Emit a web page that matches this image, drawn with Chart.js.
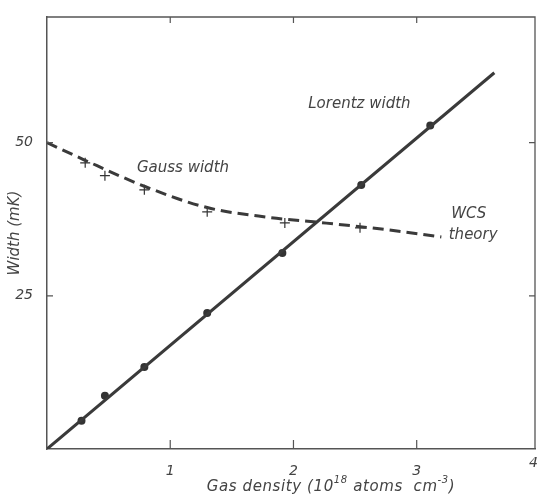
<!DOCTYPE html>
<html>
<head>
<meta charset="utf-8">
<script src="https://cdn.jsdelivr.net/npm/chart.js@4.4.1/dist/chart.umd.min.js"></script>
<style>
  html, body { margin: 0; padding: 0; background: #fff; overflow: hidden; }
  #wrap { position: relative; width: 537px; height: 495px; }
</style>
</head>
<body>
<div id="wrap"><canvas id="c"></canvas></div>
<script>
// ---- data ----
const xTickLabels = ['1', '2', '3', '4'];
const yTickLabels = ['25', '50'];

const lorentzDensity = [0.28, 0.47, 0.79, 1.30, 1.91, 2.55, 3.11];
const lorentzWidth   = [4.6, 8.7, 13.4, 22.2, 32.0, 43.1, 52.8];

const lorentzFitDensity = [0, 3.63];
const lorentzFitWidth   = [0, 61.4];

const gaussDensity = [0.31, 0.47, 0.79, 1.30, 1.93, 2.54];
const gaussWidth   = [46.7, 44.6, 42.3, 38.7, 36.9, 36.1];

const wcsDensity = [0, 0.3, 0.8, 1.3, 1.8, 2.2, 2.75, 3.2];
const wcsWidth   = [50, 47.2, 42.8, 39.4, 37.8, 37.0, 35.8, 34.6];

const zip = (xs, ys) => xs.map((x, i) => ({ x: x, y: ys[i] }));

const INK = '#333333';
const TEXT = '#444444';
const FONT = '"DejaVu Sans", sans-serif';

const decor = {
  id: 'decor',
  afterDraw(chart) {
    const { ctx, chartArea: a, scales } = chart;
    const xs = scales.x, ys = scales.y;
    ctx.save();
    // top and right frame
    ctx.strokeStyle = '#555';
    ctx.lineWidth = 1.3;
    ctx.beginPath();
    ctx.moveTo(a.left, a.top); ctx.lineTo(a.right, a.top); ctx.lineTo(a.right, a.bottom);
    ctx.stroke();
    // inward tick marks
    ctx.lineWidth = 1.2;
    [1, 2, 3].forEach(v => {
      const px = xs.getPixelForValue(v);
      ctx.beginPath();
      ctx.moveTo(px, a.bottom); ctx.lineTo(px, a.bottom - 9);
      ctx.moveTo(px, a.top); ctx.lineTo(px, a.top + 6);
      ctx.stroke();
    });
    [25, 50].forEach(v => {
      const py = ys.getPixelForValue(v);
      ctx.beginPath();
      ctx.moveTo(a.left, py); ctx.lineTo(a.left + 6, py);
      ctx.moveTo(a.right, py); ctx.lineTo(a.right - 6, py);
      ctx.stroke();
    });
    // x label "4" at the clipped right edge
    ctx.fillStyle = TEXT;
    ctx.font = 'italic 14px ' + FONT;
    ctx.textAlign = 'left';
    ctx.textBaseline = 'middle';
    ctx.fillText(xTickLabels[3], a.right - 6, a.bottom + 14);

    // curve annotations
    ctx.font = 'italic 15px ' + FONT;
    const put = (t, x, y) => ctx.fillText(t, xs.getPixelForValue(x), ys.getPixelForValue(y));
    put('Lorentz width', 2.12, 56.3);
    put('Gauss width', 0.73, 45.8);
    put('WCS', 3.28, 38.3);
    put('theory', 3.26, 34.9);

    // x-axis title with superscripts
    const base = 'italic 15px ' + FONT, sup = 'italic 10px ' + FONT;
    const parts = [
      ['Gas density (10', base, 0],
      ['18', sup, -7],
      [' atoms  cm', base, 0],
      ['-3', sup, -7],
      [')', base, 0]
    ];
    ctx.letterSpacing = '0.6px';
    let total = 0;
    parts.forEach(p => { ctx.font = p[1]; total += ctx.measureText(p[0]).width; });
    let x = 331 - total / 2;
    const y = 487;
    parts.forEach(p => {
      ctx.font = p[1];
      ctx.fillText(p[0], x, y + p[2]);
      x += ctx.measureText(p[0]).width;
    });
    ctx.restore();
  }
};

new Chart(document.getElementById('c'), {
  type: 'scatter',
  data: {
    datasets: [
      {
        label: 'WCS theory',
        data: zip(wcsDensity, wcsWidth),
        showLine: true,
        borderColor: '#3a3a3a',
        borderWidth: 3,
        borderDash: [11, 6],
        pointRadius: 0,
        tension: 0.4,
        cubicInterpolationMode: 'monotone',
        fill: false
      },
      {
        label: 'Lorentz fit',
        data: zip(lorentzFitDensity, lorentzFitWidth),
        showLine: true,
        borderColor: '#3a3a3a',
        borderWidth: 3,
        pointRadius: 0,
        fill: false
      },
      {
        label: 'Lorentz width',
        data: zip(lorentzDensity, lorentzWidth),
        showLine: false,
        pointStyle: 'circle',
        pointRadius: 5,
        pointBackgroundColor: INK,
        pointBorderColor: '#ffffff',
        pointBorderWidth: 2
      },
      {
        label: 'Gauss width',
        data: zip(gaussDensity, gaussWidth),
        showLine: false,
        pointStyle: 'cross',
        pointRadius: 5,
        pointBorderColor: INK,
        pointBorderWidth: 1.2
      }
    ]
  },
  options: {
    responsive: true,
    maintainAspectRatio: false,
    animation: false,
    events: [],
    layout: { autoPadding: false, padding: { left: 0, right: 2, top: 17, bottom: 0 } },
    plugins: { legend: { display: false }, tooltip: { enabled: false } },
    scales: {
      x: {
        type: 'linear',
        min: 0,
        max: 3.96,
        afterFit(s) { s.height = 46; s.paddingLeft = 0; s.paddingRight = 0; },
        afterBuildTicks(s) { s.ticks = [1, 2, 3].map(v => ({ value: v })); },
        grid: { display: false },
        border: { display: true, color: '#555', width: 1.5 },
        ticks: {
          padding: 6,
          color: TEXT,
          font: { family: FONT, size: 14, style: 'italic' },
          callback: (v) => xTickLabels[v - 1]
        }
      },
      y: {
        type: 'linear',
        min: 0,
        max: 70.5,
        afterFit(s) { s.width = 47; s.paddingTop = 0; s.paddingBottom = 0; },
        afterBuildTicks(s) { s.ticks = [25, 50].map(v => ({ value: v })); },
        grid: { display: false },
        border: { display: true, color: '#555', width: 1.5 },
        title: {
          display: true,
          text: 'Width (mK)',
          color: TEXT,
          font: { family: FONT, size: 15, style: 'italic' },
          padding: { top: 6, bottom: 0 }
        },
        ticks: {
          padding: 6,
          color: TEXT,
          font: { family: FONT, size: 14, style: 'italic' },
          callback: (v) => yTickLabels[v / 25 - 1]
        }
      }
    }
  },
  plugins: [decor]
});
</script>
</body>
</html>
